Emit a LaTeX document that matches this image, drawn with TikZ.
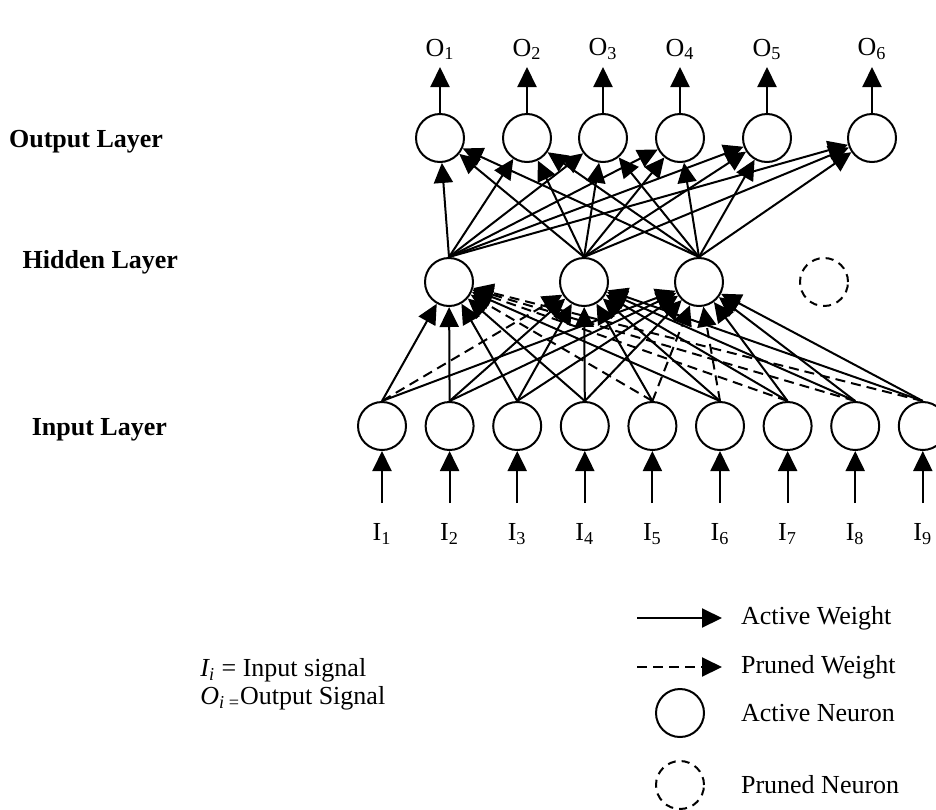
\documentclass[tikz,border=0pt]{standalone}
\usepackage{fontspec}
\setmainfont{Liberation Serif}
\usetikzlibrary{arrows.meta}

\tikzstyle{neuron} = [circle, draw, line width=1pt, minimum size=24pt, inner sep=0pt]
\tikzstyle{pruned} = [neuron, dash pattern=on 4pt off 3pt]
\tikzstyle{wt} = [line width=1pt, -{Triangle[length=10pt,width=9.5pt]}]
\tikzstyle{cut} = [wt, dash pattern=on 5pt off 3pt]
\tikzstyle{sig} = [font=\fontsize{13}{15}\selectfont]
\tikzstyle{inlabel} = [sig, anchor=north, inner ysep=10pt]
\tikzstyle{layername} = [font=\fontsize{13}{15}\selectfont\bfseries, anchor=east]

\begin{document}
\begin{tikzpicture}[x=0.5pt, y=-0.5pt, node distance=33.8pt]
        \useasboundingbox (0,0) rectangle (936,809);
        % layer names
        \node[layername] (lo) at (170,142) {Output Layer};
        \node[layername] (lh) at (185,262) {Hidden Layer};
        \node[layername] (li) at (174,430) {Input Layer};

        % input layer
        \node[neuron] (i1) at (382,426) {};
        \node[neuron, right of=i1] (i2) {};
        \node[neuron, right of=i2] (i3) {};
        \node[neuron, right of=i3] (i4) {};
        \node[neuron, right of=i4] (i5) {};
        \node[neuron, right of=i5] (i6) {};
        \node[neuron, right of=i6] (i7) {};
        \node[neuron, right of=i7] (i8) {};
        \node[neuron, right of=i8] (i9) {};

        % hidden layer
        \node[neuron] (h1) at (449,282) {};
        \node[neuron] (h2) at (584,282) {};
        \node[neuron] (h3) at (699,282) {};
        \node[pruned] (h4) at (824,282) {};

        % output layer
        \node[neuron] (o1) at (440,138) {};
        \node[neuron] (o2) at (527,138) {};
        \node[neuron] (o3) at (603,138) {};
        \node[neuron] (o4) at (680,138) {};
        \node[neuron] (o5) at (767,138) {};
        \node[neuron] (o6) at (872,138) {};

        % signals
        \node[inlabel] (x1) at (i1 |- 0,503) {I\textsubscript{1}};
        \node[inlabel] (x2) at (i2 |- 0,503) {I\textsubscript{2}};
        \node[inlabel] (x3) at (i3 |- 0,503) {I\textsubscript{3}};
        \node[inlabel] (x4) at (i4 |- 0,503) {I\textsubscript{4}};
        \node[inlabel] (x5) at (i5 |- 0,503) {I\textsubscript{5}};
        \node[inlabel] (x6) at (i6 |- 0,503) {I\textsubscript{6}};
        \node[inlabel] (x7) at (i7 |- 0,503) {I\textsubscript{7}};
        \node[inlabel] (x8) at (i8 |- 0,503) {I\textsubscript{8}};
        \node[inlabel] (x9) at (i9 |- 0,503) {I\textsubscript{9}};
        \node[sig, anchor=south] (y1) at (o1 |- 0,67) {O\textsubscript{1}};
        \node[sig, anchor=south] (y2) at (o2 |- 0,67) {O\textsubscript{2}};
        \node[sig, anchor=south] (y3) at (o3 |- 0,67) {O\textsubscript{3}};
        \node[sig, anchor=south] (y4) at (o4 |- 0,67) {O\textsubscript{4}};
        \node[sig, anchor=south] (y5) at (o5 |- 0,67) {O\textsubscript{5}};
        \node[sig, anchor=south] (y6) at (o6 |- 0,67) {O\textsubscript{6}};
        \draw[wt] (x1) -- (i1); \draw[wt] (x2) -- (i2); \draw[wt] (x3) -- (i3);
        \draw[wt] (x4) -- (i4); \draw[wt] (x5) -- (i5); \draw[wt] (x6) -- (i6);
        \draw[wt] (x7) -- (i7); \draw[wt] (x8) -- (i8); \draw[wt] (x9) -- (i9);
        \draw[wt] (o1) -- (y1); \draw[wt] (o2) -- (y2); \draw[wt] (o3) -- (y3);
        \draw[wt] (o4) -- (y4); \draw[wt] (o5) -- (y5); \draw[wt] (o6) -- (y6);

        % input to hidden
        \draw[wt] (i1.north) -- (h1); \draw[cut] (i1.north) -- (h2); \draw[wt] (i1.north) -- (h3);
        \draw[wt] (i2.north) -- (h1); \draw[wt] (i2.north) -- (h2); \draw[wt] (i2.north) -- (h3);
        \draw[wt] (i3.north) -- (h1); \draw[wt] (i3.north) -- (h2); \draw[wt] (i3.north) -- (h3);
        \draw[wt] (i4.north) -- (h1); \draw[wt] (i4.north) -- (h2); \draw[wt] (i4.north) -- (h3);
        \draw[cut] (i5.north) -- (h1); \draw[wt] (i5.north) -- (h2); \draw[cut] (i5.north) -- (h3);
        \draw[wt] (i6.north) -- (h1); \draw[wt] (i6.north) -- (h2); \draw[cut] (i6.north) -- (h3);
        \draw[cut] (i7.north) -- (h1); \draw[wt] (i7.north) -- (h2); \draw[wt] (i7.north) -- (h3);
        \draw[cut] (i8.north) -- (h1); \draw[wt] (i8.north) -- (h2); \draw[wt] (i8.north) -- (h3);
        \draw[cut] (i9.north) -- (h1); \draw[wt] (i9.north) -- (h2); \draw[wt] (i9.north) -- (h3);

        % hidden to output
        \draw[wt] (h1.north) -- (o1); \draw[wt] (h1.north) -- (o2); \draw[wt] (h1.north) -- (o3);
        \draw[wt] (h1.north) -- (o4); \draw[wt] (h1.north) -- (o5); \draw[wt] (h1.north) -- (o6);
        \draw[wt] (h2.north) -- (o1); \draw[wt] (h2.north) -- (o2); \draw[wt] (h2.north) -- (o3);
        \draw[wt] (h2.north) -- (o4); \draw[wt] (h2.north) -- (o5); \draw[wt] (h2.north) -- (o6);
        \draw[wt] (h3.north) -- (o1); \draw[wt] (h3.north) -- (o2); \draw[wt] (h3.north) -- (o3);
        \draw[wt] (h3.north) -- (o4); \draw[wt] (h3.north) -- (o5); \draw[wt] (h3.north) -- (o6);

        % key
        \node[sig, anchor=west, inner sep=0pt] (ki) at (200,670) {\textit{I\textsubscript{i}} = Input signal};
        \node[sig, anchor=west, inner sep=0pt] (ko) at (200,698) {\textit{O}\textsubscript{\textit{i} =}Output Signal};
        \coordinate (aw0) at (637,618);
        \coordinate (pw0) at (637,667);
        \node[sig, anchor=west] (aw) at (734,618) {Active Weight};
        \node[sig, anchor=west] (pw) at (734,667) {Pruned Weight};
        \draw[wt, shorten >=6pt] (aw0) -- (aw);
        \draw[cut, shorten >=6pt] (pw0) -- (pw);
        \node[neuron] (an) at (680,713) {};
        \node[sig, anchor=west] (anl) at (734,713) {Active Neuron};
        \node[pruned] (pn) at (680,785) {};
        \node[sig, anchor=west] (pnl) at (734,785) {Pruned Neuron};
    \end{tikzpicture}
\end{document}
